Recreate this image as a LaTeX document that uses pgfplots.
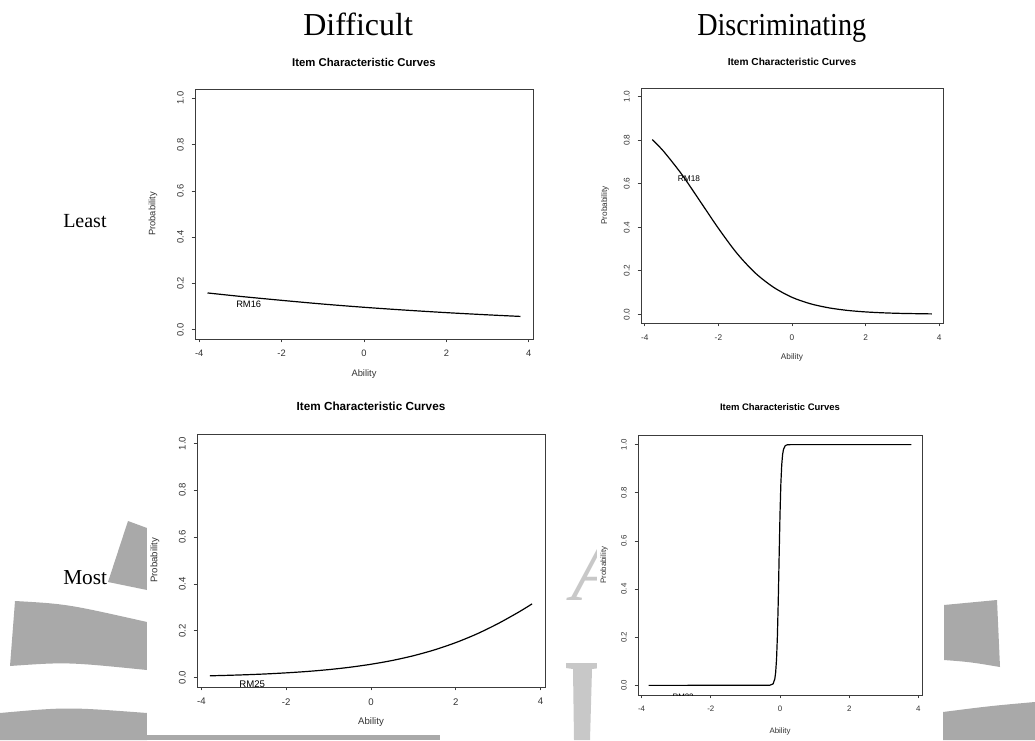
\documentclass[border=0pt]{standalone}
\usepackage{graphicx}
\usepackage{fontspec}
\setmainfont{Liberation Serif}
\newfontfamily\rfont{Liberation Sans}
\usepackage{pgfplots}
\pgfplotsset{compat=1.18}

\definecolor{wm}{HTML}{A9A9A9}
\definecolor{wmlight}{HTML}{C8C8C8}
\definecolor{axgray}{HTML}{3C3C3C}

% one R-style ICC panel: #1 title size, #2 text size, #3 title offset, #4 xlabel offset, #5 ylabel offset
\pgfplotsset{
  rplot/.style n args={5}{
    scale only axis, anchor=south west,
    xmin=-4.104, xmax=4.104, ymin=-0.04, ymax=1.04,
    xtick={-4,-2,0,2,4}, xticklabels={-4,-2,0,2,4},
    ytick={0,0.2,0.4,0.6,0.8,1}, yticklabels={0.0,0.2,0.4,0.6,0.8,1.0},
    xtick pos=left, ytick pos=left, tick align=outside,
    major tick length=2.5pt,
    axis line style={axgray, line width=0.6pt},
    every tick/.style={axgray, line width=0.5pt},
    tick label style={font=\rfont\fontsize{#2}{#2}\selectfont, text=black!80},
    xticklabel style={anchor=north, yshift=-2.5pt},
    yticklabel style={xshift=-2.5pt, rotate=90, anchor=south},
    title={Item Characteristic Curves},
    title style={font=\rfont\bfseries\fontsize{#1}{#1}\selectfont, at={(0.5,1)}, anchor=center, yshift=#3},
    xlabel={Ability}, ylabel={Probability},
    every axis x label/.style={at={(axis description cs:0.5,0)}, yshift=-#4, anchor=center,
      font=\rfont\fontsize{#2}{#2}\selectfont, text=black!80},
    every axis y label/.style={at={(axis description cs:0,0.5)}, xshift=-#5, rotate=90, anchor=center,
      font=\rfont\fontsize{#2}{#2}\selectfont, text=black!80},
  },
  icc/.style={black, line width=0.9pt, no marks},
}

\begin{document}
\begin{tikzpicture}
\fill[white] (0,0) rectangle (776.25pt,555pt);

% watermark behind the panels (pixel coordinates of the reference)
\begin{scope}[x=0.75pt, y=-0.75pt, yshift=555pt]
  \fill[wm] (128,521) -- (147,528) -- (147,590) -- (108,582) -- cycle;
  \fill[wm] (15,601) .. controls (67,604) .. (147,622) -- (147,670) .. controls (67,662) .. (10,666) -- cycle;
  \fill[wm] (0,713) .. controls (67,707) .. (147,713) -- (147,740) -- (0,740) -- cycle;
  \fill[wm] (147,735) -- (440,735) -- (440,740) -- (147,740) -- cycle;
  \fill[wm] (944,605) .. controls (970,602) .. (997,600) -- (1000,667) .. controls (970,662) .. (944,660) -- cycle;
  \fill[wm] (943,712) .. controls (990,706) .. (1035,702) -- (1035,740) -- (943,740) -- cycle;
  \node[text=wmlight, font=\itshape\fontsize{64}{64}\selectfont, anchor=base] at (598,600) {A};
  \fill[wmlight] (566,663) -- (600,663) -- (600,668) -- (592,669) -- (590,740) -- (574,740) -- (573,669) -- (566,668) -- cycle;
  \fill[white] (147,390) rectangle (555,735);
  \fill[white] (597,390) rectangle (943,740);
\end{scope}

% column and row headings
\node[inner sep=0pt, anchor=base west, font=\fontsize{24}{24}\selectfont] at (227.25pt,528pt) {Difficult};
\node[inner sep=0pt, anchor=base west, font=\fontsize{24}{24}\selectfont] at (522.75pt,528pt) {\scalebox{0.88}[1]{Discriminating}};
\node[inner sep=0pt, anchor=base west, font=\fontsize{15}{15}\selectfont] at (47.25pt,384pt) {Least};
\node[inner sep=0pt, anchor=base west, font=\fontsize{16}{16}\selectfont] at (47.25pt,117pt) {Most};

% least difficult
\begin{axis}[rplot={8.5pt}{7pt}{14.25pt}{26.25pt}{31.5pt},
  at={(146.25pt,300.75pt)}, width=253.5pt, height=187.5pt]
\addplot[icc, smooth] coordinates {
  (-3.8,0.159) (-3,0.144) (-2,0.127) (-1,0.111) (0,0.097)
  (1,0.0848) (2,0.0739) (3,0.0644) (3.8,0.0575)
};
\node[font=\rfont\fontsize{7}{7}\selectfont] at (axis cs:-2.8,0.108) {RM16};
\end{axis}

% least discriminating
\begin{axis}[rplot={7.6pt}{6.2pt}{13.5pt}{25.5pt}{27pt},
  at={(480.75pt,312.75pt)}, width=226.5pt, height=176.25pt]
\addplot[icc, smooth] coordinates {
  (-3.8,0.803) (-3.5,0.751) (-3,0.644) (-2.5,0.520) (-2,0.395)
  (-1.5,0.281) (-1,0.190) (-0.5,0.124) (0,0.078) (0.5,0.0484)
  (1,0.0297) (1.5,0.0180) (2,0.0109) (2.5,0.0066) (3,0.0040) (3.8,0.0018)
};
\node[font=\rfont\fontsize{6.2}{6.2}\selectfont] at (axis cs:-2.8,0.623) {RM18};
\end{axis}

% most difficult
\begin{axis}[rplot={8.8pt}{7.2pt}{15pt}{26.25pt}{31.5pt},
  at={(147.75pt,39.75pt)}, width=261pt, height=189.75pt]
\addplot[icc, smooth] coordinates {
  (-3.8,0.0079) (-3.5,0.0092) (-3,0.0120) (-2.5,0.0156) (-2,0.0204)
  (-1.5,0.0264) (-1,0.0342) (-0.5,0.0443) (0,0.0571) (0.5,0.0732)
  (1,0.0935) (1.5,0.1187) (2,0.1496) (2.5,0.1868) (3,0.231)
  (3.5,0.2815) (3.8,0.315)
};
\node[font=\rfont\fontsize{7.2}{7.2}\selectfont] at (axis cs:-2.8,-0.027) {RM25};
\end{axis}

% most discriminating
\begin{axis}[rplot={7.1pt}{5.9pt}{15pt}{27pt}{25.5pt},
  at={(478.5pt,33.75pt)}, width=213pt, height=195pt]
\addplot[icc] coordinates {
  (-3.8,0) (-0.3,0.0003) (-0.2,0.0061) (-0.15,0.0266) (-0.125,0.0547)
  (-0.1,0.109) (-0.075,0.206) (-0.05,0.354) (-0.025,0.537) (0,0.711)
  (0.025,0.839) (0.05,0.917) (0.075,0.959) (0.1,0.980) (0.15,0.9955)
  (0.2,0.999) (0.3,1.0) (3.8,1.0)
};
\node[font=\rfont\fontsize{5.9}{5.9}\selectfont] at (axis cs:-2.8,-0.047) {RM22};
\end{axis}
\end{tikzpicture}
\end{document}
